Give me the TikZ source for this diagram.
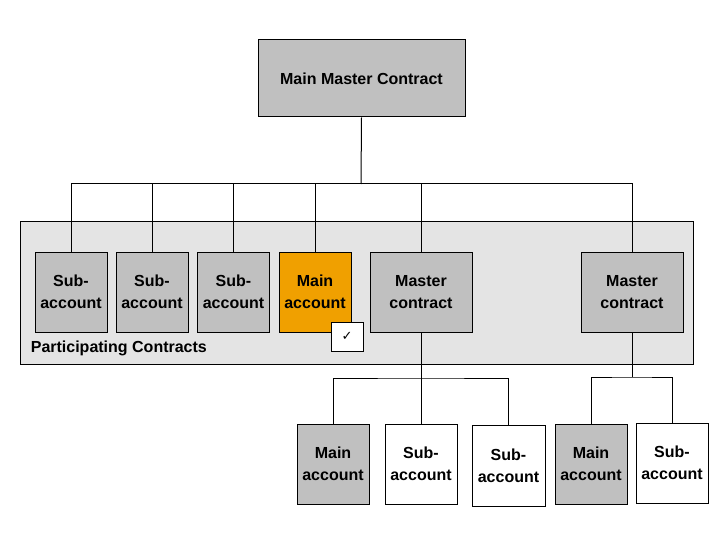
\documentclass[tikz,border=0pt]{standalone}
\usepackage{fontspec}
\setmainfont{Liberation Sans}
\newfontfamily\symf{DejaVu Sans}
\begin{document}
\begin{tikzpicture}[x=1pt,y=-1pt,line width=1pt,
  bx/.style={draw=black,inner sep=0pt,font=\fontsize{16}{22}\selectfont\bfseries,align=center},
  gr/.style={bx,fill=gray!50!white!100,fill={rgb,255:red,192;green,192;blue,192}},
  wh/.style={bx,fill=white},
  og/.style={bx,fill={rgb,255:red,240;green,160;blue,0}}]
\useasboundingbox (0,0) rectangle (720,540);
\fill[white] (0,0) rectangle (720,540);
\draw[fill={rgb,255:red,228;green,228;blue,228}] (20,222) rectangle (693,364);
\node[gr,minimum width=207,minimum height=77] (top) at (361.5,78.5) {Main Master Contract};
\node[gr,minimum width=72,minimum height=80] (s1) at (71,292) {Sub-\\account};
\node[gr,minimum width=72,minimum height=80] (s2) at (152,292) {Sub-\\account};
\node[gr,minimum width=72,minimum height=80] (s3) at (233.5,292) {Sub-\\account};
\node[og,minimum width=72,minimum height=80] (ma) at (315,292) {Main\\account};
\node[gr,minimum width=102,minimum height=80] (m1) at (421,292) {Master\\contract};
\node[gr,minimum width=102,minimum height=80] (m2) at (632,292) {Master\\contract};
\node[wh,minimum width=32,minimum height=29,font=\symf\fontsize{13}{13}\selectfont] (ck) at (347,336.5) {✓};
\node[anchor=west,font=\fontsize{16}{20}\selectfont\bfseries] (pc) at (27,348) {Participating Contracts};
\node[gr,minimum width=72,minimum height=80] (b1) at (333,464) {Main\\account};
\node[wh,minimum width=72,minimum height=80] (b2) at (421,464) {Sub-\\account};
\node[wh,minimum width=73,minimum height=81] (b3) at (508.5,465.5) {Sub-\\account};
\node[gr,minimum width=72,minimum height=80] (b4) at (591,464) {Main\\account};
\node[wh,minimum width=72,minimum height=80] (b5) at (672,463) {Sub-\\account};
\coordinate (j) at (361,184);
\draw (top.south) -- (j);
\draw (s1.north) |- (j);
\draw (m2.north) |- (j);
\foreach \n in {s2,s3,ma,m1} \draw (\n.north) -- (\n.north |- j);
\coordinate (k) at (421,378);
\draw (m1.south) -- (k);
\draw (b1.north) |- (k) -| (b3.north);
\draw (k) -- (b2.north);
\coordinate (l) at (632,377);
\draw (m2.south) -- (l);
\draw (b4.north) |- (l) -| (b5.north);
\end{tikzpicture}
\end{document}
